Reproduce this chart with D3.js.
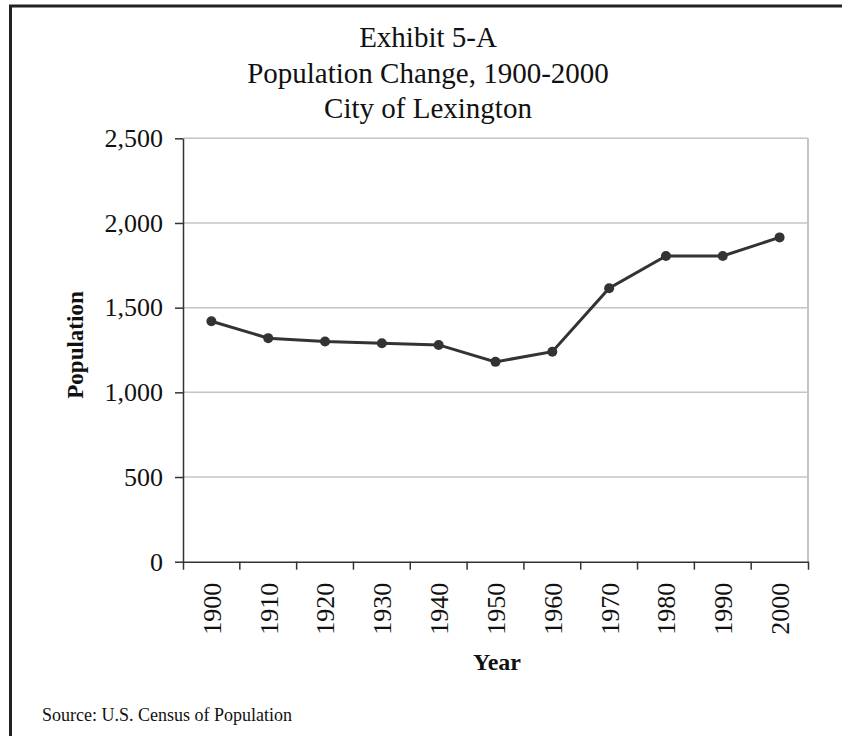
<!DOCTYPE html>
<html>
<head>
<meta charset="utf-8">
<script src="https://cdn.jsdelivr.net/npm/d3@7"></script>
<style>
  body { margin: 0; background: #fff; }
  text { font-family: "Liberation Serif", "Times New Roman", serif; fill: #111; }
</style>
</head>
<body>
<div id="canvas"></div>
<script>
const width = 842;
const height = 736;

const years = ['1900','1910','1920','1930','1940','1950','1960','1970','1980','1990','2000'];
const population = [1420, 1320, 1300, 1290, 1280, 1180, 1240, 1615, 1805, 1805, 1915];
const yTicks = [0, 500, 1000, 1500, 2000, 2500];
const titleLines = ['Exhibit 5-A', 'Population Change, 1900-2000', 'City of Lexington'];

const data = years.map((y, i) => ({year: y, value: population[i]}));

const svg = d3.select('#canvas').append('svg')
  .attr('width', width)
  .attr('height', height)

// outer frame (runs off right and bottom)
svg.append('rect')
  .attr('x', 10.5).attr('y', 6)
  .attr('width', 860).attr('height', 760)
  .attr('fill', 'none')
  .attr('stroke', '#222')
  .attr('stroke-width', 3)

const plotLeft = 183, plotRight = 808, plotTop = 138.3, plotBottom = 561.7;

const xScale = d3.scaleBand().domain(years).range([plotLeft, plotRight]).padding(0);
const yScale = d3.scaleLinear().domain([0, 2500]).range([plotBottom, plotTop]);

// title
svg.append('g').selectAll('text')
  .data(titleLines)
  .join('text')
  .attr('x', 428)
  .attr('y', (d, i) => 47 + i * 35.5)
  .attr('text-anchor', 'middle')
  .style('font-size', '29px')
  .text(d => d)

// gridlines
svg.append('g').selectAll('line')
  .data(yTicks.filter(d => d > 0))
  .join('line')
  .attr('x1', plotLeft).attr('x2', plotRight)
  .attr('y1', d => yScale(d)).attr('y2', d => yScale(d))
  .attr('stroke', '#c4c4c4')
  .attr('stroke-width', 1.5)

// right edge of plot area
svg.append('line')
  .attr('x1', plotRight).attr('x2', plotRight)
  .attr('y1', plotTop).attr('y2', plotBottom)
  .attr('stroke', '#c4c4c4')
  .attr('stroke-width', 2)

// y axis
const yAxis = d3.axisLeft(yScale)
  .tickValues(yTicks)
  .tickSize(8)
  .tickSizeOuter(0)
  .tickPadding(12)
  .tickFormat(d3.format(','));

const gy = svg.append('g')
  .attr('transform', `translate(${plotLeft},0)`)
  .call(yAxis);
gy.selectAll('path, line').attr('stroke', '#333').attr('stroke-width', 1.5);
gy.selectAll('text')
  .style('font-size', '26px')
  .style('font-family', '"Liberation Serif", "Times New Roman", serif')
  .attr('fill', '#111');

// x axis labels (rotated)
const xAxis = d3.axisBottom(xScale)
  .tickSize(0)
  .tickSizeOuter(8)
  .tickPadding(0);

const gx = svg.append('g')
  .attr('transform', `translate(0,${plotBottom})`)
  .call(xAxis);
gx.select('.domain').attr('stroke', '#333').attr('stroke-width', 1.5);
gx.selectAll('text')
  .attr('transform', 'rotate(-90)')
  .attr('text-anchor', 'end')
  .attr('x', -21)
  .attr('y', 0)
  .attr('dy', '0.36em')
  .style('font-size', '26px')
  .style('font-family', '"Liberation Serif", "Times New Roman", serif')
  .attr('fill', '#111');

// category boundary ticks
gx.append('g').selectAll('line')
  .data(years.slice(1))
  .join('line')
  .attr('x1', d => xScale(d)).attr('x2', d => xScale(d))
  .attr('y1', 0).attr('y2', 8)
  .attr('stroke', '#333')
  .attr('stroke-width', 1.5)

// line + markers
const line = d3.line()
  .x(d => xScale(d.year) + xScale.bandwidth() / 2)
  .y(d => yScale(d.value))

svg.append('path')
  .attr('d', line(data))
  .attr('fill', 'none')
  .attr('stroke', '#333')
  .attr('stroke-width', 3)

svg.append('g').selectAll('circle')
  .data(data)
  .join('circle')
  .attr('cx', d => xScale(d.year) + xScale.bandwidth() / 2)
  .attr('cy', d => yScale(d.value))
  .attr('r', 5)
  .attr('fill', '#333')

// axis titles
svg.append('text')
  .attr('transform', 'translate(83,345) rotate(-90)')
  .attr('text-anchor', 'middle')
  .style('font-size', '23px')
  .style('font-weight', 'bold')
  .text('Population')

svg.append('text')
  .attr('x', 497)
  .attr('y', 670)
  .attr('text-anchor', 'middle')
  .style('font-size', '24px')
  .style('font-weight', 'bold')
  .text('Year')

svg.append('text')
  .attr('x', 42)
  .attr('y', 721)
  .style('font-size', '18px')
  .text('Source: U.S. Census of Population')
</script>
</body>
</html>
